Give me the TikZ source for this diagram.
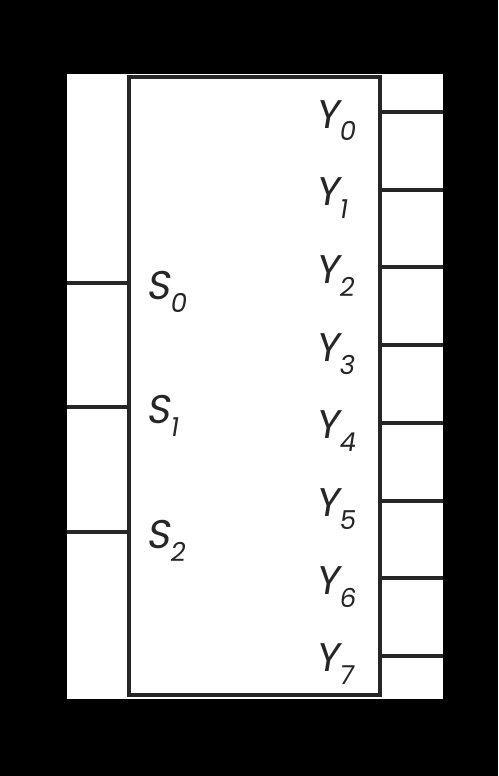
\documentclass[tikz,border=0pt]{standalone}
\usepackage{fontspec}
\newfontfamily\labfont{Poppins}[FakeSlant=0.16]
\definecolor{ink}{RGB}{38,38,38}
\begin{document}
\begin{tikzpicture}[x=1pt,y=-1pt,
  pin/.style={line width=4pt,draw=ink},
  lab/.style={anchor=base west,inner sep=0pt,text=ink,font=\labfont\fontsize{40}{40}\selectfont},
  boxstyle/.style={draw=ink,line width=4pt,minimum width=251pt,minimum height=618pt,inner sep=0pt}]
\fill[black] (0,0) rectangle (498,776);
\fill[white] (67,74) rectangle (443,699);
\useasboundingbox (0,0) rectangle (498,776);
\newcommand\lsub[1]{\raisebox{-13pt}{\fontsize{26}{26}\selectfont #1}}
\node[boxstyle] (box) at (254.5,386) {};
% select inputs
\foreach \i/\y in {0/283,1/407,2/532}{
  \coordinate (s\i) at (67,\y);
  \draw[pin] (s\i) -- (s\i -| box.west);
  \node[lab] (ls\i) at (146,\y+16) {S\lsub{\i}};
}
% outputs
\foreach \i in {0,...,7}{
  \coordinate (y\i) at (443,112+77.7*\i);
  \draw[pin] (box.east |- y\i) -- (y\i);
  \node[lab] (ly\i) at (315,112+77.7*\i+16) {Y\lsub{\i}};
}
\end{tikzpicture}
\end{document}
